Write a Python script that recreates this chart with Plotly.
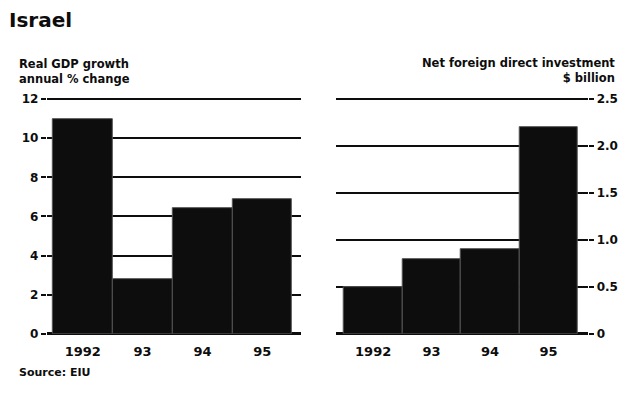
import plotly.graph_objects as go

# Israel: real GDP growth and net foreign direct investment
years = ["1992", "93", "94", "95"]
gdp_growth = [11.0, 2.8, 6.4, 6.9]        # annual % change
fdi = [0.5, 0.8, 0.9, 2.2]                # $ billion
gdp_ticks = [0, 2, 4, 6, 8, 10, 12]
fdi_ticks = [0, 0.5, 1.0, 1.5, 2.0, 2.5]
fdi_tick_text = ["0", "0.5", "1.0", "1.5", "2.0", "2.5"]

FONT = "DejaVu Sans"
INK = "#0d0d0d"

fig = go.Figure()

fig.add_trace(go.Bar(
    x=years, y=gdp_growth, xaxis="x", yaxis="y",
    marker=dict(color=INK, line=dict(color="#555555", width=1)),
    hoverinfo="skip",
))
fig.add_trace(go.Bar(
    x=years, y=fdi, xaxis="x2", yaxis="y2",
    marker=dict(color=INK, line=dict(color="#555555", width=1)),
    hoverinfo="skip",
))

# a little headroom above the top tick so its gridline is still drawn
y_dom = [0.1525, 0.7625]
tick_font = dict(family=FONT, size=12, color=INK, weight="bold")
x_font = dict(family=FONT, size=13, color=INK, weight="bold")

fig.update_layout(
    width=618, height=400,
    margin=dict(l=0, r=0, t=0, b=0),
    paper_bgcolor="white", plot_bgcolor="rgba(0,0,0,0)",
    showlegend=False, bargap=0,
    xaxis=dict(domain=[0.076, 0.489], range=[-0.6, 3.65], type="category",
               showgrid=False, ticks="", tickfont=x_font, anchor="y",
               ticklabelstandoff=8),
    yaxis=dict(domain=y_dom, range=[0, 12.1], tickvals=gdp_ticks,
               showgrid=True, gridcolor=INK, gridwidth=1.5,
               zeroline=True, zerolinecolor=INK, zerolinewidth=2.5,
               ticks="outside", ticklen=5, tickwidth=1.5, tickcolor=INK,
               tickfont=tick_font, anchor="x", showline=False),
    xaxis2=dict(domain=[0.545, 0.955], range=[-0.64, 3.68], type="category",
                showgrid=False, ticks="", tickfont=x_font, anchor="y2",
                ticklabelstandoff=8),
    yaxis2=dict(domain=y_dom, range=[0, 2.52], tickvals=fdi_ticks,
                ticktext=fdi_tick_text, side="right",
                showgrid=True, gridcolor=INK, gridwidth=1.5,
                zeroline=True, zerolinecolor=INK, zerolinewidth=2.5,
                ticks="outside", ticklen=5, tickwidth=1.5, tickcolor=INK,
                tickfont=tick_font, anchor="x2", showline=False),
)

def label(text, x, y, size, xanchor="left"):
    fig.add_annotation(text=text, x=x, y=y, xref="paper", yref="paper",
                       xanchor=xanchor, yanchor="middle", showarrow=False,
                       align=xanchor, borderpad=0,
                       font=dict(family=FONT, size=size, color=INK, weight="bold"))

label("Israel", 8 / 618, 1 - 15 / 400, 20)
label("Real GDP growth<br>annual % change", 18 / 618, 1 - 69 / 400, 11.5)
label("Net foreign direct investment<br>$ billion", 1.0, 1 - 68 / 400, 11.5, "right")
label("Source: EIU", 18 / 618, 1 - 379 / 400, 11)

fig.write_html("out.html")
